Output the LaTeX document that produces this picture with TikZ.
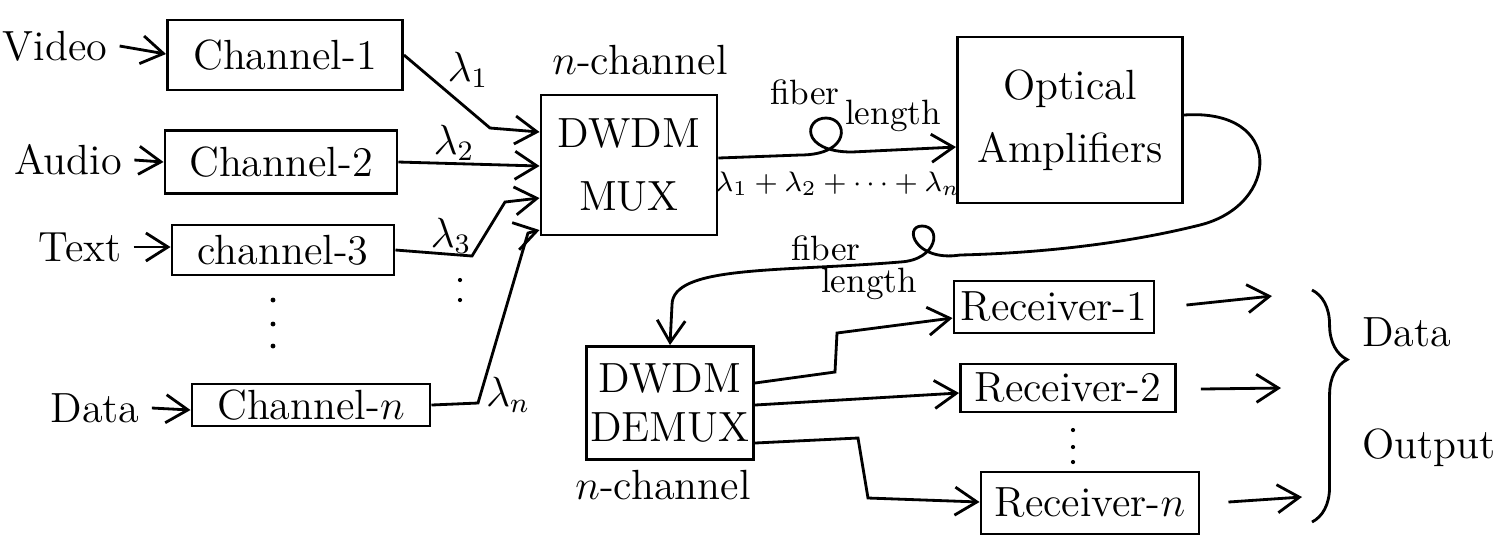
\documentclass[tikz,border=0pt]{standalone}
\usepackage{amsmath,amssymb}
\usetikzlibrary{arrows.meta,positioning,calc,decorations.pathreplacing}

\begin{document}
\begin{tikzpicture}[
    x=0.01cm, y=-0.01cm,
    >={Straight Barb[length=2.2mm,width=2.8mm]},
    blk/.style={
        rectangle, draw, thick, inner sep=1pt,
        text centered, font=\large
    },
    lbl/.style={font=\large},
    conn/.style={->, thick},
    fibre/.style={thick, line join=round}
]
    \useasboundingbox (0,0) rectangle (1511,550);

    % Sources and channels
    \node[lbl] (video) at (55,46) {Video};
    \node[lbl] (audio) at (68,160) {Audio};
    \node[lbl] (text) at (80,247) {Text};
    \node[lbl] (data) at (95,408) {Data};

    \node[blk, minimum width=2.35cm, minimum height=0.7cm] (ch1) at (285,55) {Channel-1};
    \node[blk, minimum width=2.32cm, minimum height=0.63cm] (ch2) at (281,162) {Channel-2};
    \node[blk, minimum width=2.22cm, minimum height=0.5cm] (ch3) at (283,250) {channel-3};
    \node[blk, minimum width=2.38cm, minimum height=0.42cm] (chn) at (311,405) {Channel-$n$};

    % dots for the missing channels
    \foreach \y in {300,324,346} \fill (273,\y) circle (0.7pt);
    \foreach \y in {280,300} \fill (460,\y) circle (0.6pt);

    \draw[conn] (video.east) -- (ch1.west |- 0,54);
    \draw[conn] (audio.east) -- (ch2.west |- 0,162);
    \draw[conn] (text.east) -- (ch3.west |- 0,247);
    \draw[conn] (data.east) -- (chn.west |- 0,410);

    % Multiplexer
    \node[blk, align=center, minimum width=1.76cm, minimum height=1.4cm] (mux) at (629,165) {DWDM\\[4pt]MUX};
    \node[lbl] (nchtop) at (640,60) {$n$-channel};

    \node[lbl] (l1) at (468,70) {$\lambda_1$};
    \node[lbl] (l2) at (454,143) {$\lambda_2$};
    \node[lbl] (l3) at (451,236) {$\lambda_3$};
    \node[lbl] (ln) at (508,395) {$\lambda_n$};

    \draw[conn] (ch1.east) -- (490,128) -- (mux.west |- 0,132);
    \draw[conn] (ch2.east) -- (mux.west |- 0,166);
    \draw[conn] (ch3.east) -- (472,256) -- (505,202) -- (mux.west |- 0,198);
    \draw[conn] (chn.east) -- (478,403) -- (528,233) -- (mux.west |- 0,230);

    % Amplifier and fibre
    \node[blk, align=center, minimum width=2.25cm, minimum height=1.66cm] (oa) at (1070,120) {Optical\\[4pt]Amplifiers};

    \draw[conn, fibre] (mux.east |- 0,158) -- (800,155)
        .. controls (852,155) and (848,118) .. (826,118)
        .. controls (804,118) and (800,152) .. (852,152)
        -- (oa.west |- 0,147);
    \node (fib1) at (805,92) {fiber};
    \node (len1) at (893,116) {length};
    \node[font=\footnotesize] (sum) at (838,184) {$\lambda_1+\lambda_2+\cdots+\lambda_n$};

    % Demultiplexer
    \node[blk, align=center, minimum width=1.67cm, minimum height=1.13cm] (demux) at (670,403) {DWDM\\DEMUX};
    \node[lbl] (nchbot) at (663,485) {$n$-channel};

    \draw[conn, fibre] (oa.east |- 0,115)
        .. controls (1285,108) and (1280,205) .. (1200,225)
        .. controls (1100,250) and (1000,254) .. (960,255)
        .. controls (915,262) and (903,226) .. (922,226)
        .. controls (942,226) and (938,260) .. (900,262)
        .. controls (780,272) and (672,265) .. (672,305)
        -- (demux.north);
    \node (fib2) at (826,248) {fiber};
    \node (len2) at (869,284) {length};

    % Receivers
    \node[blk, minimum width=2cm, minimum height=0.52cm] (rx1) at (1054,307) {Receiver-1};
    \node[blk, minimum width=2.15cm, minimum height=0.48cm] (rx2) at (1068,388) {Receiver-2};
    \node[blk, minimum width=2.18cm, minimum height=0.62cm] (rxn) at (1090,503) {Receiver-$n$};
    \foreach \y in {430,447,462} \fill (1073,\y) circle (0.6pt);

    \draw[conn] (demux.east |- 0,383) -- (835,372) -- (837,333) -- (rx1.west |- 0,318);
    \draw[conn] (demux.east |- 0,405) -- (rx2.west |- 0,393);
    \draw[conn] (demux.east |- 0,443) -- (858,438) -- (868,498) -- (rxn.west |- 0,502);

    % Outputs
    \coordinate (out1) at (1272,296);
    \coordinate (out2) at (1281,388);
    \coordinate (outn) at (1302,497);
    \draw[conn] (rx1.east) ++(31,-2) -- (out1);
    \draw[conn] (rx2.east) ++(24,1) -- (out2);
    \draw[conn] (rxn.east) ++(28,-1) -- (outn);

    \coordinate (bt) at (1312,290);
    \coordinate (bb) at (1312,522);
    \draw[thick, decorate, decoration={brace, amplitude=10pt, aspect=0.3}] (bt) -- (bb);
    \node[lbl, align=left, anchor=west] (dout) at (1350,392) {Data\\[18pt]Output};
\end{tikzpicture}
\end{document}
